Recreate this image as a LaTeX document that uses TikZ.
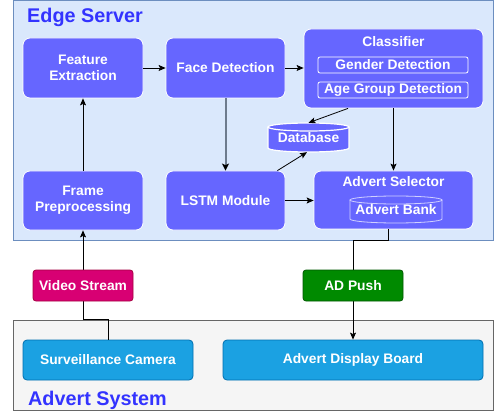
\documentclass[tikz,border=0pt]{standalone}
\usepackage{fontspec}
\setmainfont{Liberation Sans}
\usetikzlibrary{arrows.meta,calc}
\definecolor{boxfill}{HTML}{6666FF}
\definecolor{titleblue}{HTML}{3333FF}
\definecolor{esfill}{HTML}{DAE8FC}
\definecolor{esstroke}{HTML}{6C8EBF}
\definecolor{asfill}{HTML}{F5F5F5}
\definecolor{asstroke}{HTML}{666666}
\definecolor{camfill}{HTML}{1BA1E2}
\definecolor{camstroke}{HTML}{006EAF}
\definecolor{pinkfill}{HTML}{D80073}
\definecolor{pinkstroke}{HTML}{A50040}
\definecolor{greenfill}{HTML}{008A00}
\definecolor{greenstroke}{HTML}{005700}
\definecolor{grayline}{HTML}{6D7B8D}
\definecolor{banklight}{HTML}{D0D0FF}
\tikzset{
  txt/.style={font=\fontsize{13.8}{16}\selectfont\bfseries, text=white, align=center},
  title/.style={font=\fontsize{19.8}{22}\selectfont\bfseries, text=titleblue, inner sep=0pt},
  proc/.style={rectangle, rounded corners=7pt, fill=boxfill, draw=white, line width=0.8pt, inner sep=0pt, txt},
  inner/.style={rectangle, rounded corners=2pt, draw=white, line width=0.8pt, inner sep=0pt, txt},
  tag/.style={rectangle, rounded corners=3pt, line width=0.8pt, inner sep=0pt, txt, minimum width=100pt, minimum height=31pt},
  dev/.style={rectangle, rounded corners=4pt, fill=camfill, draw=camstroke, line width=0.8pt, inner sep=0pt, txt, minimum height=40pt},
  container/.style={rectangle, line width=0.8pt, inner sep=0pt},
  arr/.style={draw=black, line width=0.8pt, -{Stealth[length=7pt,width=6pt,inset=1.5pt]}},
}
\begin{document}
\begin{tikzpicture}[x=1pt,y=-1pt]
\useasboundingbox (0,0) rectangle (494,411);
% containers
\node[container, fill=esfill, draw=esstroke, minimum width=480pt, minimum height=239.5pt] (edge) at (253,120.25) {};
\node[container, fill=asfill, draw=asstroke, minimum width=480pt, minimum height=90pt] (advsys) at (253,365) {};
\node[title, anchor=base west] (edgetitle) at (27,23) {Edge Server};
\node[title, anchor=base west] (advsystitle) at (28,405) {Advert System};

% process boxes
\node[proc, minimum width=120pt, minimum height=60pt] (fe) at (83,68) {Feature\\Extraction};
\node[proc, minimum width=119pt, minimum height=60pt] (fd) at (225.5,68) {Face Detection};
\node[proc, minimum width=120pt, minimum height=59pt] (fp) at (83,200.5) {Frame\\Preprocessing};
\node[proc, minimum width=119pt, minimum height=59pt] (lstm) at (225.5,200.5) {LSTM Module};
\node[proc, minimum width=179pt, minimum height=79pt] (cls) at (393.5,68.5) {};
\node[txt] (clstitle) at (393.5,42) {Classifier};
\node[inner, minimum width=150pt, minimum height=16pt] (gd) at (393,65) {Gender Detection};
\node[inner, minimum width=150pt, minimum height=16pt] (ag) at (393,90) {Age Group Detection};
\node[proc, minimum width=159pt, minimum height=58pt] (as) at (393.5,200) {};
\node[txt] (astitle) at (393.5,182) {Advert Selector};

% database cylinder
\fill[boxfill] (268,127) rectangle (349,148);
\fill[boxfill] (308.5,127) ellipse [x radius=40.5, y radius=4];
\fill[boxfill] (308.5,148) ellipse [x radius=40.5, y radius=4];
\draw[white, line width=1.2pt] (308.5,127) ellipse [x radius=40.5, y radius=4];
\draw[white, line width=1.2pt] (268,127) -- (268,148) arc [start angle=180, end angle=0, x radius=40.5, y radius=4] -- (349,127);
\node[txt, minimum width=81pt, minimum height=29pt, inner sep=0pt] (db) at (308.5,137.5) {\raisebox{-2pt}{Database}};

% advert bank cylinder
\draw[banklight, line width=0.8pt] (396,200) ellipse [x radius=46, y radius=4];
\draw[banklight, line width=0.8pt] (350,200) -- (350,219) arc [start angle=180, end angle=0, x radius=46, y radius=4] -- (442,200);
\node[txt, minimum width=92pt, minimum height=27pt, inner sep=0pt] (ab) at (396,209.5) {\raisebox{-2pt}{Advert Bank}};

% devices
\node[dev, minimum width=170pt] (sc) at (108,360) {Surveillance Camera};
\node[dev, minimum width=260pt] (adb) at (353,360) {Advert Display Board};

% connectors
\draw[arr] (fe.east) -- (fd.west);
\draw[arr] (fd.east) -- (cls.west |- fd.east);
\draw[arr] (fp.north) -- (fe.south);
\draw[draw=grayline, line width=2pt, -{Stealth[length=7pt,width=7pt,inset=1.5pt,color=black,fill=black]}] (fd.south) -- (lstm.north);
\draw[arr] ([xshift=-45.5pt]cls.south) -- (db.north);
\draw[arr] ([xshift=-8pt]lstm.north east) -- ([xshift=-1.5pt]db.south);
\draw[arr] (cls.south) -- (as.north);
\draw[arr] (lstm.east) -- (as.west |- lstm.east);
\draw[arr] ([xshift=-5.5pt]as.south) -- ++(0,11) -| (adb.north);
\draw[arr] (sc.north) -- ++(0,-20) -| (fp.south);

% edge labels
\node[tag, fill=pinkfill, draw=pinkstroke] (vs) at (83,285.5) {Video Stream};
\node[tag, fill=greenfill, draw=greenstroke] (ad) at (353,285.5) {AD Push};
\end{tikzpicture}
\end{document}
